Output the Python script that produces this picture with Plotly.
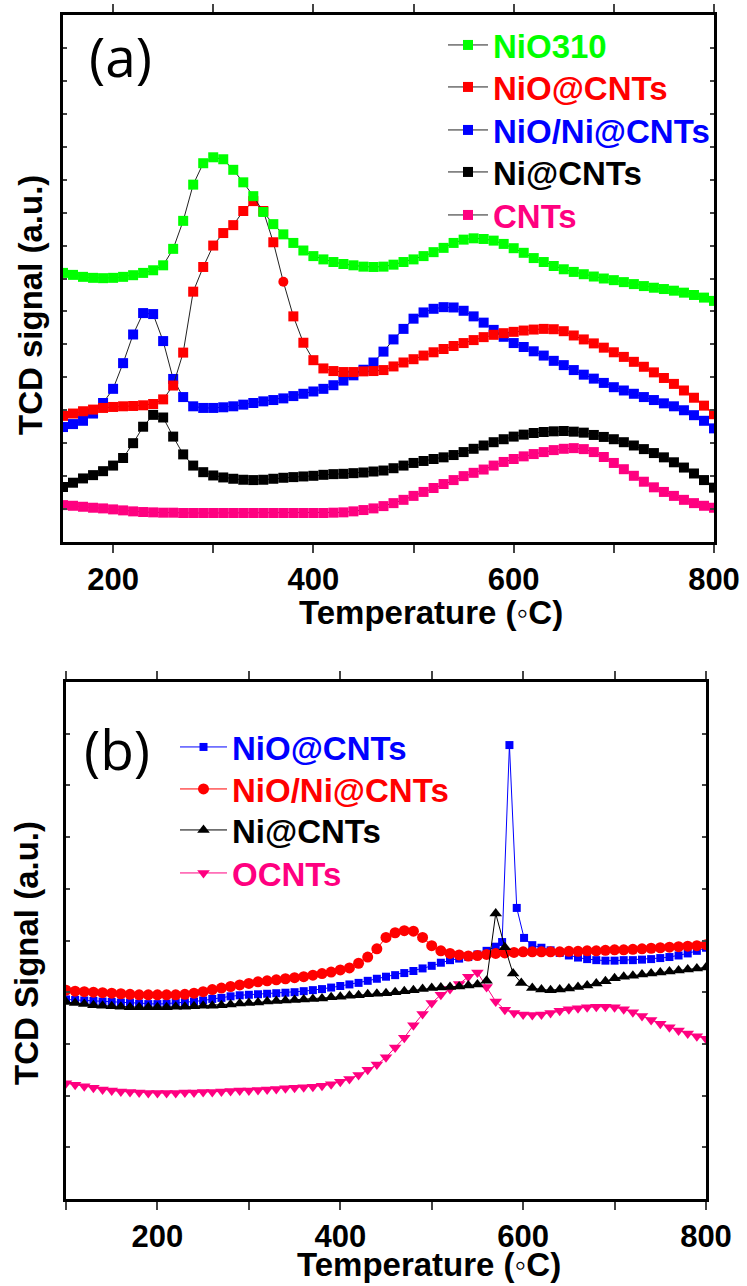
import plotly.graph_objects as go

# ---------------- Panel (a) data ----------------
T_a = [150, 160, 170, 180, 190, 200, 210, 220, 230, 240, 250, 260, 270, 280, 290,
       300, 310, 320, 330, 340, 350, 360, 370, 380, 390, 400, 410, 420, 430, 440,
       450, 460, 470, 480, 490, 500, 510, 520, 530, 540, 550, 560, 570, 580, 590,
       600, 610, 620, 630, 640, 650, 660, 670, 680, 690, 700, 710, 720, 730, 740,
       750, 760, 770, 780, 790, 800]

nio310 = [8.17, 8.11, 8.05, 8.02, 8.01, 8.02, 8.05, 8.10, 8.17, 8.25, 8.40, 8.90, 9.75, 10.85, 11.50,
          11.68, 11.62, 11.30, 10.92, 10.50, 10.02, 9.65, 9.34, 9.08, 8.85, 8.68, 8.58, 8.50, 8.44, 8.40,
          8.36, 8.35, 8.36, 8.42, 8.50, 8.58, 8.68, 8.80, 8.93, 9.08, 9.18, 9.22, 9.20, 9.15, 9.05,
          8.92, 8.78, 8.62, 8.50, 8.38, 8.28, 8.20, 8.13, 8.06, 8.00, 7.95, 7.89, 7.83, 7.77, 7.72,
          7.68, 7.63, 7.57, 7.50, 7.42, 7.32]

nio_cnts_a = [3.83, 3.90, 3.97, 4.02, 4.07, 4.10, 4.12, 4.13, 4.15, 4.19, 4.33, 4.75, 5.75, 7.60, 8.35,
              9.00, 9.38, 9.62, 10.05, 10.35, 10.05, 9.10, 7.90, 6.85, 6.05, 5.52, 5.27, 5.19, 5.16, 5.16,
              5.18, 5.19, 5.22, 5.33, 5.45, 5.55, 5.66, 5.76, 5.86, 5.95, 6.04, 6.13, 6.22, 6.29, 6.34,
              6.38, 6.42, 6.45, 6.47, 6.46, 6.40, 6.27, 6.15, 6.03, 5.90, 5.76, 5.62, 5.47, 5.32, 5.15,
              4.98, 4.80, 4.60, 4.38, 4.14, 3.88]

nio_ni_cnts_a = [3.49, 3.58, 3.68, 3.90, 4.22, 4.65, 5.43, 6.30, 6.95, 6.92, 6.10, 4.95, 4.40, 4.12, 4.07,
                 4.07, 4.09, 4.12, 4.17, 4.22, 4.27, 4.31, 4.36, 4.43, 4.50, 4.57, 4.65, 4.76, 4.90, 5.06,
                 5.23, 5.45, 5.78, 6.15, 6.47, 6.78, 6.97, 7.08, 7.13, 7.12, 7.02, 6.85, 6.66, 6.44, 6.23,
                 6.04, 5.92, 5.79, 5.66, 5.50, 5.37, 5.22, 5.08, 4.96, 4.83, 4.70, 4.60, 4.50, 4.40, 4.31,
                 4.21, 4.12, 4.00, 3.85, 3.68, 3.45]

ni_cnts_a = [1.67, 1.80, 1.93, 2.03, 2.15, 2.32, 2.55, 3.00, 3.50, 3.86, 3.78, 3.20, 2.66, 2.32, 2.12,
             2.02, 1.96, 1.92, 1.89, 1.88, 1.89, 1.92, 1.95, 1.97, 1.99, 2.01, 2.04, 2.06, 2.07, 2.09,
             2.11, 2.14, 2.17, 2.24, 2.32, 2.40, 2.46, 2.52, 2.57, 2.64, 2.73, 2.83, 2.93, 3.03, 3.12,
             3.20, 3.26, 3.31, 3.34, 3.36, 3.37, 3.35, 3.32, 3.25, 3.19, 3.12, 3.03, 2.93, 2.82, 2.70,
             2.57, 2.42, 2.26, 2.08, 1.88, 1.65]

cnts_a = [1.12, 1.10, 1.07, 1.04, 1.02, 0.99, 0.96, 0.93, 0.91, 0.90, 0.89, 0.89, 0.88, 0.88, 0.88,
          0.88, 0.88, 0.88, 0.88, 0.88, 0.88, 0.88, 0.88, 0.88, 0.88, 0.88, 0.88, 0.89, 0.90, 0.93,
          0.97, 1.02, 1.09, 1.18, 1.28, 1.40, 1.52, 1.64, 1.76, 1.88, 2.00, 2.10, 2.20, 2.32, 2.43,
          2.52, 2.60, 2.67, 2.73, 2.79, 2.83, 2.85, 2.82, 2.73, 2.58, 2.40, 2.21, 2.01, 1.83, 1.66,
          1.52, 1.40, 1.28, 1.18, 1.10, 1.04]

# ---------------- Panel (b) data ----------------
T_b = [100, 110, 120, 130, 140, 150, 160, 170, 180, 190, 200, 210, 220, 230, 240,
       250, 260, 270, 280, 290, 300, 310, 320, 330, 340, 350, 360, 370, 380, 390,
       400, 410, 420, 430, 440, 450, 460, 470, 480, 490, 500, 510, 520, 530, 540,
       550, 560, 570, 580, 590, 600, 610, 620, 630, 640, 650, 660, 670, 680, 690,
       700, 710, 720, 730, 740, 750, 760, 770, 780, 790, 800]

T_b_nio = [100, 110, 120, 130, 140, 150, 160, 170, 180, 190, 200, 210, 220, 230, 240,
           250, 260, 270, 280, 290, 300, 310, 320, 330, 340, 350, 360, 370, 380, 390,
           400, 410, 420, 430, 440, 450, 460, 470, 480, 490, 500, 510, 520, 530, 540,
           550, 560, 570, 577, 585, 593, 601, 610, 620, 630, 640, 650, 660, 670, 680,
           690, 700, 710, 720, 730, 740, 750, 760, 770, 780, 790, 800]
nio_cnts_b = [3.86, 3.85, 3.84, 3.83, 3.82, 3.81, 3.80, 3.79, 3.78, 3.77, 3.77, 3.78, 3.79, 3.80, 3.82,
              3.84, 3.87, 3.89, 3.92, 3.94, 3.95, 3.96, 3.97, 3.98, 3.99, 4.00, 4.02, 4.04, 4.06, 4.09,
              4.12, 4.15, 4.18, 4.22, 4.26, 4.30, 4.33, 4.37, 4.41, 4.46, 4.51, 4.57, 4.62, 4.65, 4.68,
              4.73, 4.80, 4.88, 4.97, 8.78, 5.63, 5.05, 4.91, 4.86, 4.81, 4.76, 4.71, 4.67, 4.64, 4.62,
              4.61, 4.61, 4.62, 4.62, 4.63, 4.64, 4.66, 4.68, 4.71, 4.75, 4.80, 4.86]

nio_ni_cnts_b = [4.04, 4.02, 4.01, 4.00, 3.99, 3.98, 3.97, 3.96, 3.95, 3.95, 3.95, 3.95, 3.95, 3.96, 3.98,
                 4.01, 4.05, 4.08, 4.11, 4.14, 4.17, 4.20, 4.22, 4.24, 4.26, 4.28, 4.30, 4.33, 4.36, 4.39,
                 4.43, 4.47, 4.56, 4.68, 4.84, 5.06, 5.15, 5.19, 5.18, 5.06, 4.90, 4.80, 4.75, 4.72, 4.70,
                 4.71, 4.73, 4.75, 4.76, 4.77, 4.78, 4.78, 4.78, 4.78, 4.78, 4.79, 4.79, 4.80, 4.80, 4.81,
                 4.82, 4.82, 4.83, 4.84, 4.85, 4.86, 4.87, 4.88, 4.89, 4.90, 4.92]

T_b_ni = [100, 110, 120, 130, 140, 150, 160, 170, 180, 190, 200, 210, 220, 230, 240,
          250, 260, 270, 280, 290, 300, 310, 320, 330, 340, 350, 360, 370, 380, 390,
          400, 410, 420, 430, 440, 450, 460, 470, 480, 490, 500, 510, 520, 530, 540,
          550, 560, 570, 580, 589, 598, 610, 620, 630, 640, 650, 660, 670, 680, 690,
          700, 710, 720, 730, 740, 750, 760, 770, 780, 790, 800]
ni_cnts_b = [3.81, 3.79, 3.77, 3.75, 3.74, 3.73, 3.72, 3.71, 3.71, 3.71, 3.71, 3.71, 3.72, 3.72, 3.73,
             3.74, 3.74, 3.75, 3.76, 3.78, 3.79, 3.80, 3.82, 3.83, 3.84, 3.85, 3.86, 3.87, 3.88, 3.90,
             3.91, 3.93, 3.94, 3.96, 3.97, 3.98, 4.00, 4.02, 4.04, 4.06, 4.08, 4.09, 4.10, 4.11, 4.13,
             4.15, 4.22, 5.52, 4.87, 4.36, 4.18, 4.08, 4.05, 4.04, 4.05, 4.07, 4.10, 4.13, 4.17, 4.21,
             4.27, 4.30, 4.32, 4.34, 4.36, 4.38, 4.40, 4.42, 4.44, 4.46, 4.48]

ocnts_b = [2.24, 2.21, 2.18, 2.15, 2.12, 2.10, 2.08, 2.07, 2.06, 2.05, 2.05, 2.05, 2.05, 2.06, 2.06,
           2.07, 2.07, 2.08, 2.09, 2.10, 2.10, 2.11, 2.12, 2.13, 2.14, 2.15, 2.16, 2.17, 2.19, 2.22,
           2.27, 2.32, 2.40, 2.50, 2.60, 2.74, 2.93, 3.12, 3.36, 3.58, 3.79, 3.95, 4.06, 4.16, 4.30,
           4.38, 4.10, 3.82, 3.66, 3.60, 3.57, 3.56, 3.57, 3.60, 3.64, 3.67, 3.69, 3.71, 3.72, 3.72,
           3.71, 3.67, 3.61, 3.54, 3.46, 3.39, 3.32, 3.26, 3.20, 3.15, 3.10]

x_ticks_a = [200, 300, 400, 500, 600, 700, 800]
x_text_a = ["200", "", "400", "", "600", "", "800"]
x_ticks_b = [100, 200, 300, 400, 500, 600, 700, 800]
x_text_b = ["", "200", "", "400", "", "600", "", "800"]

GREEN = "#00ff00"
RED = "#ff0000"
BLUE = "#0000ff"
BLACK = "#000000"
PINK = "#ff0080"

FONT = "Liberation Sans, Arial, sans-serif"
W, H = 747, 1286


def lname(text, color):
    return '<span style="color:%s">%s</span>' % (color, text)


fig = go.Figure()

# panel (a): drawing order pink, black, blue, red, green (green on top)
# (name, values, colour, legend id, legend row centre in px)
series_a = [
    ("CNTs", cnts_a, PINK, "legend5", 215),
    ("Ni@CNTs", ni_cnts_a, BLACK, "legend4", 172),
    ("NiO/Ni@CNTs", nio_ni_cnts_a, BLUE, "legend3", 130),
    ("NiO@CNTs", nio_cnts_a, RED, "legend2", 87),
    ("NiO310", nio310, GREEN, "legend", 45),
]
legend_font = dict(family=FONT, size=33, weight="bold")
legends = {}
for name, vals, col, lg, yc in series_a:
    symbols = ["square"] * len(vals)
    if name == "NiO@CNTs":
        symbols[T_a.index(370)] = "circle"
    fig.add_trace(go.Scatter(
        x=T_a, y=vals, mode="lines+markers", name=lname(name, col),
        line=dict(color="#222222", width=1),
        marker=dict(symbol=symbols, size=10, color=col, line=dict(width=0)),
        xaxis="x", yaxis="y", legend=lg,
    ))
    legends[lg] = dict(x=443 / W, y=1 - yc / H, xanchor="left", yanchor="middle",
                       bgcolor="rgba(0,0,0,0)", borderwidth=0, font=legend_font,
                       itemwidth=40)

# panel (b)
series_b = [
    ("OCNTs", T_b, ocnts_b, PINK, "triangle-down", 11, "legend9", 873),
    ("NiO@CNTs", T_b_nio, nio_cnts_b, BLUE, "square", 8, "legend6", 747),
    ("NiO/Ni@CNTs", T_b, nio_ni_cnts_b, RED, "circle", 11, "legend7", 789),
    ("Ni@CNTs", T_b_ni, ni_cnts_b, BLACK, "triangle-up", 11, "legend8", 830),
]
for name, xs, vals, col, sym, size, lg, yc in series_b:
    fig.add_trace(go.Scatter(
        x=xs, y=vals, mode="lines+markers", name=lname(name, col),
        line=dict(color=col, width=1),
        marker=dict(symbol=sym, size=size, color=col, line=dict(width=0)),
        xaxis="x2", yaxis="y2", legend=lg,
    ))
    legends[lg] = dict(x=175 / W, y=1 - yc / H, xanchor="left", yanchor="middle",
                       bgcolor="rgba(0,0,0,0)", borderwidth=0, font=legend_font,
                       itemwidth=47)

axis_common = dict(showline=True, linewidth=3, linecolor="black", mirror="ticks",
                   showgrid=False, zeroline=False, automargin=False)
tickfont = dict(family=FONT, size=31, color="black", weight="bold")

a_left, a_right, a_top, a_bottom = 63, 714, 15, 542
b_left, b_right, b_top, b_bottom = 66, 706, 682, 1199

fig.update_layout(
    width=W, height=H,
    margin=dict(l=0, r=0, t=0, b=0, autoexpand=False),
    paper_bgcolor="white", plot_bgcolor="white",
    xaxis=dict(domain=[a_left / W, a_right / W], range=[150, 800], anchor="y",
               tickmode="array", tickvals=x_ticks_a, ticktext=x_text_a,
               ticks="outside", ticklen=8, tickwidth=2, tickfont=tickfont, **axis_common),
    yaxis=dict(domain=[1 - a_bottom / H, 1 - a_top / H], range=[0, 16], anchor="x",
               dtick=1, ticks="inside", ticklen=4, tickwidth=2, showticklabels=False,
               **axis_common),
    xaxis2=dict(domain=[b_left / W, b_right / W], range=[100, 800], anchor="y2",
                tickmode="array", tickvals=x_ticks_b, ticktext=x_text_b,
                ticks="outside", ticklen=8, tickwidth=2, tickfont=tickfont, **axis_common),
    yaxis2=dict(domain=[1 - b_bottom / H, 1 - b_top / H], range=[0, 10], anchor="x2",
                dtick=1, ticks="inside", ticklen=4, tickwidth=2, showticklabels=False,
                **axis_common),
    showlegend=True,
    **legends,
)

title_font = dict(family=FONT, size=33, color="black", weight="bold")
annots = [
    dict(text="(a)", x=120 / W, y=1 - 55 / H, font=dict(family="Open Sans", size=55, color="black")),
    dict(text="(b)", x=117 / W, y=1 - 748 / H, font=dict(family="Open Sans", size=55, color="black")),
    dict(text="Temperature (◦C)", x=431 / W, y=1 - 613 / H, font=title_font),
    dict(text="Temperature (◦C)", x=429 / W, y=1 - 1264 / H, font=title_font),
    dict(text="TCD signal (a.u.)", x=30 / W, y=1 - 305 / H, font=title_font, textangle=-90),
    dict(text="TCD Signal (a.u.)", x=26 / W, y=1 - 953 / H, font=title_font, textangle=-90),
]
for a in annots:
    fig.add_annotation(xref="paper", yref="paper", showarrow=False,
                       xanchor="center", yanchor="middle", **a)

fig.write_html("out.html")
